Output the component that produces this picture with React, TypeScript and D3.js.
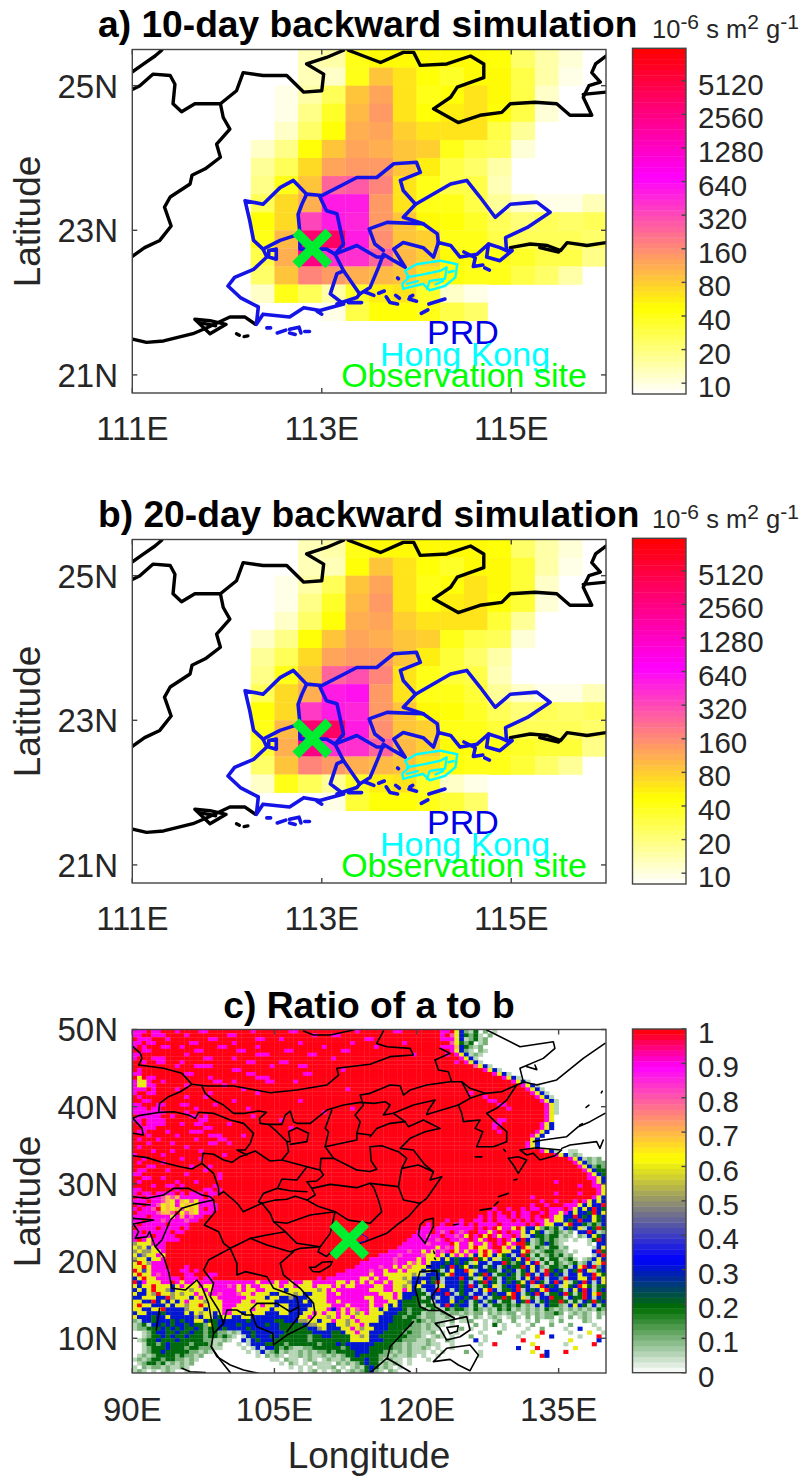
import React from "react";
import * as d3 from "d3";

// footprint values per 0.25 degree cell, rows from 25.5N down, columns from 111E
const FOOTPRINT_10D = [
  [0,0,0,0,0,0,0,13,14,40,50,50,50,50,50,45,22,15,10,0],
  [0,0,0,0,0,0,0,13,12,42,90,60,45,35,50,50,30,14,9,0],
  [0,0,0,0,0,0,9,15,25,85,120,60,40,45,65,50,30,12,0,0],
  [0,0,0,0,0,0,9.5,18,35,100,140,60,45,55,65,45,30,11,0,0],
  [0,0,0,0,0,0,12,22,45,110,125,75,60,60,60,30,16,0,0,0],
  [0,0,0,0,0,12,18,45,90,125,110,90,75,40,28,25,11,0,0,0],
  [0,0,0,0,0,16,25,70,125,140,130,85,55,30,22,15,0,0,0,0],
  [0,0,0,0,0,18,40,85,230,280,170,65,40,30,28,13,0,0,0,0],
  [0,0,0,0,0,25,70,110,500,550,140,60,40,40,30,16,12,9,9,13],
  [0,0,0,0,0,45,70,350,500,450,130,85,50,45,35,25,20,25,22,25],
  [0,0,0,0,0,40,100,3000,3500,500,160,90,75,40,40,30,25,25,25,22],
  [0,0,0,0,0,30,110,2500,400,400,230,100,75,50,45,40,35,30,30,18],
  [0,0,0,0,0,22,85,170,130,110,100,85,60,45,40,40,30,22,15,0],
  [0,0,0,0,0,12,40,25,15,35,55,65,35,12,9,0,0,0,0,0],
  [0,0,0,0,0,0,0,0,9,30,45,45,40,30,22,0,0,0,0,0],
];
const FOOTPRINT_20D = [
  [0,0,0,0,0,0,0,13,14,41,52,50,50,50,52,46,23,15,10,0],
  [0,0,0,0,0,0,0,13,13,43,92,62,46,36,52,52,31,14,9,0],
  [0,0,0,0,0,0,9,15,26,87,122,62,41,46,66,52,31,12,0,0],
  [0,0,0,0,0,0,9.5,18,36,102,142,62,46,56,66,46,31,11,0,0],
  [0,0,0,0,0,0,12,23,46,112,127,77,61,61,61,31,16,0,0,0],
  [0,0,0,0,0,12,18,46,92,127,112,92,77,41,29,26,11,0,0,0],
  [0,0,0,0,0,16,26,72,127,142,132,87,56,31,23,15,0,0,0,0],
  [0,0,0,0,0,18,41,87,235,285,172,66,41,31,29,13,0,0,0,0],
  [0,0,0,0,0,26,72,112,510,560,142,61,41,41,31,16,12,9,9,13],
  [0,0,0,0,0,46,72,360,510,460,132,87,51,46,36,26,21,26,23,26],
  [0,0,0,0,0,41,102,3100,3600,510,162,92,77,41,41,31,26,26,26,23],
  [0,0,0,0,0,31,112,2600,410,410,235,102,77,51,46,41,36,31,31,19],
  [0,0,0,0,0,23,87,172,132,112,102,87,61,46,41,41,31,23,16,0],
  [0,0,0,0,0,12,41,26,16,36,56,66,36,12,9,0,0,0,0,0],
  [0,0,0,0,0,0,0,0,9,31,46,46,41,31,23,0,0,0,0,0],
];
const CBAR_TICKS_AB = [10, 20, 40, 80, 160, 320, 640, 1280, 2560, 5120];
const CBAR_TICKS_C = [0, 0.1, 0.2, 0.3, 0.4, 0.5, 0.6, 0.7, 0.8, 0.9, 1];

// ratio a/b on a 0.5 degree grid, rows from 50N down, columns from 90E, 10 groups of 5 degrees
// . = 0, a = 0.05, 1..9 = 0.1..0.9, X = 1
const RATIO_ROWS = [
  "999X99XXX9 XXXX99XXXX XXXXX9XXXX XXX99XXXXX XXXXXXX9XX XXXXX99XXX XXXXX99X63 1a2.1.a... .......... ..........",
  "99XX999XXX X9XXXXXXXX 99XXXXXXXX XXXXXXXX9X XX99XXXXXX XXXXXXXXXX XXXXX9X863 212a.1.... .......... ..........",
  "X999XXX9XX XXXXXX99XX XXXXXX99XX X9XXXXXXXX XXXXXXXXX9 9XXXXXXXXX XXXXX99963 a12a1..... .......... ..........",
  "99X99XXXXX XX99XXXXXX X9XXXXXXXX XXXXX9XXXX XXXXXX9XXX XXXXXXX9XX XXXXXXX862 12.a1..... .......... ..........",
  "9X9XXX99XX 9XXXXXXX99 XXXXXX9XXX XXXXXXXXXX 9XXXXXXXXX X9XXXXXXXX XXXXX99973 21a1...... .......... ..........",
  "XX99XXXXXX XXX99XXXXX XX99XXXXXX XX99XXXXXX XXXX99XXXX XXXXXXXXXX XXXXXXX963 1a.1a..... .......... ..........",
  "99XXXXXXXX X9XXXXXXXX XXXXXX999X XXXXXXX99X XXXXXXXXXX XXXXXXXXX9 XXXXXX9X96 3a1a...... .......... ..........",
  "9XXX999XXX XXXXX99XXX X9XXXXXXXX XXXXXXXXXX XX9XXXXXXX XXXXXXXXXX XXXXXXXXX9 63a....... .......... ..........",
  "XX9XX99XXX 9XXXXXXXXX XXXX99XXXX X99XXXXXXX XXXXXXXXXX XXXXXXXXXX XXXXXXXX9X 963a...... .......... ..........",
  "XXXXXXXXX9 XXX9999XXX XXXXXXXXX9 XXXXX99XXX XXXXXXXXXX XXXXXXXXXX XXXXXXXXXX XX863a.... .......... ..........",
  "X9XXXXXXXX XXXXXXXXXX X99XXXXXXX XXXXXXXXXX XXXX9XXXXX XXXXXXXXXX XXXXXXXXXX XXXX963a.. .......... ..........",
  "99XXXXXXXX X99XXXXXXX XXXX99XXXX XXXXXX99XX XXXXXXXXXX XXXXXXXXXX XXXXXXXXXX XXXXXX963a .......... ..........",
  "X6X99XXXXX XXXXXX9XXX XXXXXX999X XXXXXXXXXX XXXXXXXXXX XXXXXXXXXX XXXXXXXXXX XXXXXXXX96 3a........ ..........",
  "9669XX9XXX XXXXXXX99X X9XXXXXX99 XXXX9XXXXX XXXXXXXXXX XXXXXXXXXX XXXXXXXXXX XXXXXXXXXX 963a...... ..........",
  "96699XXXXX X9XXXXXXX9 XXXXXXXXXX XXXXXXXXXX XXXXXXXXXX XXXXXXXXXX XXXXXXXXXX XXXXXXXXXX XX963a.... ..........",
  "999X9XXXX9 XXXXXXXXXX XXX9XXXXXX XXXXXXXXXX XXXXX9XXXX XXXXXXXXXX XXXXXXXXXX XXXXXXXXXX XXX963a... ..........",
  "9XX99XXXXX XXXXXX9XXX XXXXXX9XXX XXXXXXXXXX XXXXXXXXXX XXXXXXXXXX XXXXXXXXXX X9XXXXXXXX XXXX963a.. ..........",
  "X9XXXXXXXX X9XXX9XXXX XXXXXXXXXX XXXXXXXXXX XXXXXXXXXX XXXXXXXXXX XXXXXXXXXX XXXX9XXXXX XXXXX963a. ..........",
  "XX99XXXXXX XXXXXXXXXX X9XXXXXXXX XXXXX9XXXX XXXXXXXXXX XXXXXXXXXX XXXXXXXXXX XXXXX99XXX XXXXXX963a ..........",
  "99XXX99XXX 99XXXXX9XX XXXXXXXXXX XXXXXXXXXX XXXXXXXXXX XXXXXXXXXX XXXXXXXXXX XXXXXXX99X XXXXXXX96a ..........",
  "999X99XXXX XXX9XXXXXX XXXX9XXXXX XXXXXXXXXX XXXXXX9XXX XXXXXXXXXX XXXXXXXXXX XXXXXXXXX9 XXXXXXX96a ..........",
  "9999999XXX X9XXXXXXXX XXXXXXXXXX XXXXXXXXXX 9XXXXXXXXX XXXXXXXXXX XXXXXXXXXX XXXXXXXXXX XXXXXXX96a ..........",
  "X99999XX9X XX99X9XXXX XXXXX9XXXX XXXXXXXXXX XXXXXXXXXX XXXXXXXXXX XXXXXXXXXX XXXXXXXXXX XXXXXXX96. ..........",
  "99X9999XXX XXXX99XXXX XXXXXXXXXX X9XXXXXXXX XXXXXXXXXX XXXXXXXXXX XXXXXXXXXX XXXXXXX99X XXXXXXX96. ..........",
  "X9X9999XXX 9XX99XXXXX 9XXXXXXXXX XXXXXXXXXX XXXXXXXXXX XXXXXXXXXX XXXXXXXXXX XXXXXX99XX XXXXXX963. ..........",
  "XX999XXXXX XXXXX99XXX XXXXXXXXXX XXX9XXXXXX XXXXXXXXXX XXXXXXXXXX XXXXXXXXXX XXXXXX9XXX XXXXXX963. ..........",
  "X99XXXX9XX XX999XXXXX XXXXXXXXXX XXXXXXXXXX XXXXXXXXXX XXXXXXXXXX XXXXXXXXXX XXXXXXX9XX XXXXX963.. ..........",
  "XXX9XXXXX9 XXXXXX999X XXX9XXXXXX XXXXXXXXXX XXXXXXXXXX XXXXXXXXXX XXXXXXXXXX XXXXXXXXXX XXXX963... ..........",
  "X9XXX9XXXX XXX9XXXX99 XXXXXXXXXX XXXXXXXXXX XXXXXXXXXX XXXXXXXXXX XXXXXXXXXX XXXXXXXXXX XXXX63.... ..........",
  "XXX9XXXX9X XXXXXX99XX 9XXXXXXXXX XXXXXXXXXX XXXXXXXXXX XXXXXXXXXX XXXXXXXXXX XXXXXXXXXX XXX963.... ..........",
  "X9XXXXXXXX X9XXXXXXXX XXXXXXXXXX XXXXXXXXXX XXXXXXXXXX XXXXXXXXXX XXXXXXXXXX XXXXXXXXXX XXX963.... ..........",
  "XXXX9XXX9X XXXX9XXXXX XXXXXXXXXX XXXXXXXXXX XXXXXXXXXX XXXXXXXXXX XXXXXXXXXX XXXXXXXXXX XXXXXX963a ..aa......",
  "9XXXXX9XXX XXXXXXXXX9 XXXXXXXXXX XXXXXXXXXX XXXXXXXXXX XXXXXXXXXX XXXXXXXXXX XXXXXXXXXX XXXXXXXXX9 63a1a.....",
  "XX9XXXXXXX 9XXX9XXXXX XXXXXXXXXX XXXXXXXXXX XXXXXXXXXX XXXXXXXXXX XXXXXXXXXX XXXXXXXXXX XXXXXXXXXX XX963a1a1.",
  "X9XXXX9XXX XXXXXXXXXX XXXXXXXXXX XXXXXXXXXX XXXXXXXXXX XXXXXXXXXX XXXXXXXXXX XXXXXXXXXX XXXXXXXXXX XXX9631a11",
  "XXX99XXXXX XX9XXX9XXX XXXXXXXXXX XXXXXXXXXX XXXXXXXXXX XXXXXXXXXX XXXXXXXXXX XXXXXXXXXX XXXXXXXXXX XXXX963121",
  "X99XXXX9XX XXXXX9XXXX XXXXXXXXXX XXXXXXXXXX XXXXXXXXXX XXXXXXXXXX XXXXXXXXXX XXXXXXXXXX XXXXXXXXXX XXXXX96322",
  "99XXXXXXXX X9XXXXXX9X XXXXXXXXXX XXXXXXXXXX XXXXXXXXXX XXXXXXXXXX XXXXXXXXXX XXXXXXXXXX XXXXXXXXXX XXXXXX9632",
  "XX99XX9XXX XXXXXXXX9X XXXXXXXXXX XXXXXXXXXX XXXXXXXXXX XXXXXXXXXX XXXXXXXXXX XXXXXXXXXX XXXXXXXXXX XXXXXX9963",
  "X9XXXXXXX9 XXX9XXXXXX XXXXXXXXXX XXXXXXXXXX XXXXXXXXXX XXXXXXXXXX XXXXXXXXXX XXXXXXXXXX XXXXXXXXX9 XXXXXXX963",
  "XXXX9XX99X 9XXXXXX9XX XXXXXXXXXX XXXXXXXXXX XXXXXXXXXX XXXXXXXXXX XXXXXXXXXX XXXXXXXXXX XXXXXXXXXX XXXX9XX996",
  "99XXXXXXX9 XXXXX99X9X XXXXXXXXXX XXXXXXXXXX XXXXXXXXXX XXXXXXXXXX XXXXXXXXXX XXXXXXXXXX XXXXXXXXXX XXXXXXXX96",
  "9X99X9999X 9X999X99XX XXXXXXXXXX XXXXXXXXXX XXXXXXXXXX XXXXXXXXXX XXXXXXXXXX XXXXXXXXXX XXXXXXXXX9 XXXX9XXX96",
  "X9X9998787 99999X9XXX XXXXXXXXXX XXXXXXXXXX XXXXXXXXXX XXXXXXXXXX XXXXXXXXXX XXXXXXXXXX XXXX9XXXXX XXXXXXX963",
  "999X998769 7686999XXX XXXXXXXXXX XXXXXXXXXX XXXXXXXXXX XXXXXXXXXX XXXXXXXXXX XXXXXXXXXX XXXXXX9XX9 XXX9X96363",
  "X9X9986769 67669999XX XXXXXXXXXX XXXXXXXXXX XXXXXXXXXX XXXXXXXXXX XXXXXXXXXX XXXXXXXXXX XXXX9XX9XX X99963633X",
  "9X998X6767 86769X99XX XXXXXXXXXX XXXXXXXXXX XXXXXXXXXX XXXXXXXXXX XXXXXXXXXX XXXXXX9XX9 XX9X99XX99 9X96363X32",
  "X99998778X 6876999XXX XXXXXXXXXX XXXXXXXXXX XXXXXXXXXX XXXXXXXXXX XXXXXXXXXX XXXXX9X9XX 9X99XX9X99 6936332X36",
  "999X999969 79899XXXXX XXXXXXXXXX XXXXXXXXXX XXXXXXXXXX XXXXXXXXXX XXXXXXXXXX XXX9X9X99X 9X99X9XX96 633X323623",
  "99X9998999 9899XXXXXX XXXXXXXXXX XXXXXXXXXX XXXXXXXXXX XXXXXXXXXX XXXXXX9XX9 XX99X9X999 X9X9X99696 6323X33623",
  "9X99999X99 99XXXXXXXX XXXXXXXXXX XXXXXXXXXX XXXXXXXXXX XXXXXXXXXX XX9XX9XX99 X9X9999X99 999X9X9663 36X3321213",
  "X9999X9999 X9XXXXXXXX XXXXXXXXXX XXXXXXXXXX XXXXXXXXXX XXXXXXXXXX X99X999999 99X9X9X699 6X63361212 a3236a32X2",
  "99X99999X9 9XXXXXXXXX XXXXXXXXXX XXXXXXXXXX XXXXXXXXXX XXXXXXXXXX 999X989X98 9XX9969X9X 9963623a12 1a1.33X3a1",
  "9999X9999X XXXXXXXXXX XXXXXXXXXX XXXXXXXXXX XXXXXXXXXX XXXXXXXXX9 99899X9989 6X9X6X9699 X96a322122 a1a.1a3623",
  "9X96999999 XXXXXXXXXX XXXXXXXXXX XXXXXXXXXX XXXXXXXXXX XXXXXXXX99 999989X998 9X969XX9X9 63X3a12121 aa.a..a2X3",
  "5666999XXX XXXXXXXXXX XXXXXXXXXX XXXXXXXXXX XXXXXXXXXX XXXXXXX999 9989999X69 969969X9X6 9XX2a12321 a.....a.33",
  "6564699XXX XXXXXXXXXX XXXXXXXXXX XXXXXXXXXX XXXXXXXXXX XXXXXX9999 9999698969 96X669XX69 63X6a21a22 a1.....a36",
  "5655669XXX XXXXXXXXXX XXXXXXXXXX XXXXXXXXXX XXXXXXXXXX XXXX999989 9696989X69 6996X69X66 336X1a1221 1a.a...3X2",
  "6456696XXX XXXXXXXXXX XXXXXXXXXX XXXXXXXXXX XXXXXXXXXX XX99998999 9866963696 9636X63623 a3X2a2a121 2a1....a3X",
  "5663669XXX XXXXXXXXXX XXXXXXXXXX XXXXXXXXXX XXXXXXXXXX 9999989999 6966636323 32X2636a22 363X1a2a22 a12a.a1363",
  "6X65999XXX XXXXXXXXXX XXXXXXXXXX XXXXXXXXXX XXXXXXXX99 9999989968 6963332323 2a633a33X2 12363Xa2a2 1a12a13a6X",
  "66X6999XXX X9XXXXXXXX XXXXXXXXXX XXXXXXXXXX XXXXXXX999 9989969686 6633323X32 6323a23a23 22X3631a22 12a36X3X13",
  "X6469999XX 99X9XXXXXX XXXXXXXXXX XXXXXXXXXX XXXXX99999 8996996966 63632a3633 X6a3322a32 3a2363aX23 2a32X36a23",
  "6X669899XX X99XXX99XX XXXXXXXXXX XXXXXXXXXX XXX9999999 6996666665 6a33326X33 3632X3a223 2a2X3a3X32 3a33633X62",
  "36X6699999 X999X99XXX XXXXXXXXXX XXXXXXXXX9 X999999966 9699666563 33323a333X 32a63X2a32 2a363X3a33 1X33663X36",
  "X3966699X9 6996999999 9999996999 6996996699 9996696969 6996966653 3632Xa3332 3a32X32a32 3263X32a3X 36a23X3a36",
  "6366X66636 9666966999 8969699666 6966966696 6696966999 9669966563 6333a63332 3X3a236a23 3X23a6X323 a623X62a22",
  "3636X66536 6656696999 9969669966 6636666665 6969999999 6669966963 2a33X33a32 33a36X3a22 3Xa3236X33 2a363X3a23",
  "63365X6656 5669669989 9986696663 3666563366 6996999999 9966696333 22a333X3a2 3a33a32336 X3a23X3a22 3X2a2X36X2",
  "3366633X56 6636966699 9999666636 6335333666 6999999996 6996696332 2a23a33a33 23Xa3a22X2 X36a2a33X2 2a322X3a32",
  "6633X36363 6966656669 9996696666 3333336366 6996999999 6999663222 222a333632 3a23a23a22 a32X3a2322 X2a2a32X23",
  "6X66333636 6566X66669 9966666966 3663333366 6699969999 6996363222 2a22a3X323 3a2a3a2212 12a1a3a322 1a3632a3a2",
  "663366X333 3566636669 9666696663 6663333666 6939696899 6636333212 22a21a2122 1a21a1a212 a1a1a1a21a 1a1a1a1a21",
  "3663332333 3636566369 9663666633 3663336696 9669696569 6663332212 2a11a1a11a 1a11.1a1a1 1.a1a1a112 1.a1a1a.1a",
  "6333233633 3335366326 6336633333 3333366966 6569669666 6633322122 1a11aa1a.1 a.1a.a1a.a 1a.1.1a11. a.1.a1a.1.",
  "1a33233323 2336632233 3333233333 2233355663 6696656966 6633322221 21a1aa.1.a a1..a.a1.. 1..a.1..a. 1....1a...",
  "a12a332323 3232216233 3323333323 3222223556 6336656696 3333222221 1a1a1a.a.. ..1.a.2.a. .a..1...1. ..1....a..",
  "a112223232 3223212232 3333233333 3222222335 6333669656 6333222211 1a1aa....1 .a..a...a. ...a..1... .a..3...a.",
  "..a1233223 2232212211 a1a3323333 3322222233 3322366966 3332222121 1aa1.a..a. ...a...1.. ..a...X... ..a...6..a",
  "..a1223232 2322212212 1a.a323332 3222222122 3322226656 3322222211 1a.a1a.a.. .1..a..... .a...6..3. ....a...X.",
  ".a12232223 2222211aa1 a..3a32333 2222222122 2222226666 3332222111 aa1a..1a.. ..3.a..... ..X....... ..6.....3.",
  "..a2212322 2212221a1. ..a.a33322 2212222221 2223233333 3222211a1a aa1aa..a.. ...a..X... ....6..... .a.....X..",
  "..a1222322 2122111aa. ...a.a3a33 2121aa1122 2222123333 2222211a1a a1a.a..a.. .......... .3...X.... ...6......",
  "..a1223222 2211a1a... ....a.a3a1 2a1aa1a1a1 1212222333 22211a1a1a aa.a.a.... 1..a...... ....6..3.. .X........",
  ".a1a122221 211a1..... ......a.1a 1a.aa1a1aa 1a1a122322 2211a1aa1a .a..a..... ...a...... ......X3.. ..........",
  "a1a1221221 1a1a...... .........a a.1aa.a1a. a1aa1a2223 221a1aa.a. ..a....... .......... .......... ..........",
  ".a12212a1a 1a1....... .......... .a.1a.a.1a aa.1a1a123 22a1a1a.a. .......... .......... .......... ..........",
  "a.1a11a1aa 1a........ .......... ...a.a.a.a aa1.a.a1a2 32a1a.a... .......... .......... .......... ..........",
  "a1a.a.a1a. .a........ .......... .....a.a1. a.a1.a1a12 31a.1a.... .......... .......... .......... ..........",
];

const SITE = { lon: 112.9, lat: 22.75 };

// outlines in degrees, [lon, lat]
type Pt = [number, number];
const REGION_BLACK: Pt[][] = [
  [[110.99,25.18],[111.12,25.3],[111.24,25.41],[111.31,25.49]],
  [[110.99,24.94],[111.08,25],[111.22,25.16],[111.4,25.14],[111.45,25.02],[111.43,24.75],[111.52,24.64],[111.66,24.75],[111.93,24.75],[111.96,24.56],[112.03,24.4],[111.89,24.19],[111.93,24.01],[111.77,23.85],[111.63,23.76],[111.61,23.64],[111.4,23.46],[111.34,23.32],[111.41,23.06],[111.29,22.86],[111.13,22.76],[110.99,22.63]],
  [[111.93,24.75],[112.1,24.93],[112.17,25.18],[112.38,25.14],[112.63,25.14],[112.81,24.91],[113,24.93],[113.02,25.16],[112.84,25.3],[113.05,25.39],[113.23,25.49]],
  [[113.28,25.49],[113.44,25.41],[113.62,25.32],[113.86,25.46],[113.97,25.46],[114.04,25.28],[114.32,25.3],[114.57,25.41],[114.71,25.3],[114.71,25.11],[114.43,24.98],[114.36,24.84],[114.18,24.68],[114.44,24.49],[114.67,24.59],[114.9,24.63],[114.99,24.75],[115.25,24.77],[115.48,24.75],[115.62,24.59],[115.85,24.59],[115.76,24.84],[115.82,25],[115.94,25.05],[115.85,25.18],[115.89,25.3],[116,25.41]],
  [[115.76,24.88],[116,24.91]],
  [[110.99,21.5],[111.15,21.45],[111.33,21.47],[111.64,21.57],[111.8,21.66],[112.03,21.8],[112.19,21.8],[112.3,21.7]],
  [[111.66,21.77],[111.82,21.75],[111.99,21.7],[111.82,21.57],[111.66,21.77]],
  [[111.72,21.72],[111.88,21.68]],
  [[114.99,22.76],[115.2,22.81],[115.38,22.79],[115.52,22.72],[115.59,22.83],[115.8,22.79],[116,22.83]],
  [[115.3,22.76],[115.5,22.7]],
  [[112.1,21.57],[112.13,21.55]],[[112.18,21.53],[112.22,21.54]],
];
const PRD_BLUE: Pt[][] = [
  [[112.01,22.23],[112.08,22.35],[112.28,22.46],[112.42,22.63],[112.38,22.74],[112.28,22.86],[112.24,23.13],[112.19,23.41],[112.38,23.36],[112.56,23.59],[112.7,23.69],[112.84,23.5],[113,23.48],[113.37,23.73],[113.58,23.73],[113.76,23.92],[114,23.94],[114.04,23.8],[113.83,23.69],[113.86,23.55],[113.99,23.36],[114.36,23.64],[114.53,23.69],[114.67,23.46],[114.83,23.18],[114.99,23.36],[115.27,23.39],[115.41,23.25],[115.17,23.04],[114.94,22.9],[114.95,22.72],[115.01,22.72],[114.88,22.58],[114.74,22.63],[114.76,22.81],[114.64,22.67],[114.46,22.63],[114.36,22.79],[114.23,22.83],[114.18,22.63],[114.07,22.76],[113.86,22.83],[113.76,22.74],[113.88,22.49],[113.76,22.58],[113.65,22.67],[113.6,22.49],[113.51,22.21],[113.4,22.12],[113.23,22.44],[113.16,22.4],[113.09,22.12],[113.23,21.98],[112.98,21.89],[112.81,21.93],[112.66,21.8],[112.38,21.84],[112.31,21.7],[112.33,21.94],[112.14,22.07],[112.01,22.23]],
  [[112.38,22.74],[112.56,22.86],[112.77,22.95],[112.75,23.22],[112.79,23.36],[112.84,23.5]],
  [[112.77,22.95],[112.77,22.74],[113.05,22.74],[113.14,22.67],[113.23,22.81],[113.16,23.23],[113.05,23.27],[112.98,23.46]],
  [[113.14,22.67],[113.37,22.79],[113.58,22.63],[113.65,22.63]],
  [[113.14,22.67],[113.23,22.44]],
  [[114.23,22.83],[114.22,22.95],[114.07,23.09],[113.69,23.11],[113.5,23.02],[113.56,22.81],[113.65,22.72]],
  [[113.99,23.36],[113.86,23.18],[114.07,23.09]],
  [[112.44,22.72],[112.52,22.74],[112.52,22.6],[112.44,22.63],[112.44,22.72]],
  [[113.16,21.98],[113.37,22.07],[113.4,22.12]],
  [[114.76,22.81],[114.88,22.76],[114.95,22.72]],
  [[114.5,22.7],[114.62,22.62],[114.6,22.5],[114.7,22.52]],
  // islands
  [[112.53,21.58],[112.62,21.62]],[[112.66,21.63],[112.76,21.66],[112.78,21.58]],[[112.72,21.56],[112.66,21.58]],[[112.82,21.6],[112.87,21.6]],[[112.42,21.65],[112.46,21.65]],
  [[113.68,22.08],[113.72,22],[113.8,21.98]],[[113.78,22.1],[113.82,22.06]],[[113.92,22.05],[114,22.02]],[[114.05,21.85],[114.12,21.9]],[[114.13,21.98],[114.3,22.05]],[[113.8,22.34],[113.81,22.33]],[[113.93,22.08],[113.96,22.1]],
  [[114.72,22.48],[114.77,22.45]],[[113.6,22.13],[113.66,22.16]],[[113.28,22],[113.42,22]],[[113.45,22.15],[113.55,22.1]],[[112.95,21.88],[113.0,21.84]],
];
const HK_CYAN: Pt[][] = [
  [[113.88,22.44],[114,22.53],[114.25,22.58],[114.43,22.53],[114.41,22.35],[114.3,22.23],[114.14,22.17],[114.07,22.26],[113.86,22.19],[113.85,22.26],[113.92,22.35],[113.88,22.44]],
  [[113.9,22.35],[114.07,22.39],[114.25,22.44],[114.32,22.49],[114.3,22.33],[114.14,22.3],[114.11,22.19]],
  [[114.2,22.25],[114.28,22.3]],[[114.34,22.42],[114.4,22.44]],[[113.9,22.26],[114.02,22.3]],
];
const ASIA_BLACK: Pt[][] = [
  [[90.07,47.77],[90.85,46.91],[91.02,46.26],[90.67,45.4],[93.3,44.97],[95.24,44.32],[96.29,42.9],[97.88,42.68],[100.69,42.68],[104.56,41.81],[107.37,42.16],[110.54,42.81],[111.77,44.1],[111.59,44.97],[115.1,45.49],[117.21,46.48],[119.67,46.69],[119.32,47.56],[116.86,47.77],[115.8,48.2],[116.5,49.8]],
  [[108.07,49.8],[109.13,49.28],[110.89,49.28],[113.35,49.93]],
  [[96.29,42.9],[95.06,41.94],[93.83,41.3],[92.88,40.43],[92.78,39.27]],
  [[90.07,38.49],[90.67,38.84],[92.95,39.27],[94.36,39.35],[95.94,38.92],[96.65,38.49],[97,39.27],[98.58,39.14],[100.34,38.27],[101.75,37.84],[102.8,36.55],[102.45,35.25],[101.92,34.39],[101.04,34.39],[102.1,33.74]],
  [[90.07,38.49],[91.02,37.19],[91.15,36.33],[90.07,36.55]],
  [[90.07,33.65],[91.55,33.4],[92.95,32.88],[95.06,32.23],[96.29,31.93],[97.35,32.66],[97.46,33.96],[98.58,33.83],[99.63,33.09],[100.51,32.79],[101.39,33.52],[102.98,34.26],[103.85,33.52],[104.56,32.96],[105.79,33.09],[106.49,34.17],[106.32,35.47],[105.26,36.76],[104.38,37.71],[103.5,37.84],[103.43,38.49],[104.14,39.27],[103.33,39.44],[101.92,39.14],[100.69,39.14],[99.63,40.22],[98.4,41],[97.7,41.73],[97.35,42.68]],
  [[104.38,37.71],[105.79,37.71],[106.14,38.92],[106.67,39.44],[107.02,38.06],[107.37,37.84],[108.78,37.84],[110.54,39.57],[112.3,40.22],[114.05,40.56],[115.52,40.43],[116.68,40.65],[117.21,40.22],[116.51,38.92],[117.56,39.14],[119.67,40.22],[121.96,40.86],[121.25,39.57],[121.08,39]],
  [[106.32,35.47],[106.67,35.47],[106.49,36.76],[107.37,37.28],[108.6,36.55],[108.43,35.47],[106.67,35.12]],
  [[111.06,39.57],[110.36,37.19],[110.71,36.76],[110.36,34.82],[111.24,33.31],[113.7,31.8]],
  [[110.36,34.82],[113.7,35.68],[113.7,36.55],[115.1,36.33]],
  [[113.7,36.55],[114.05,38.05],[113.52,38.92],[114.4,40.22],[114.05,41.51],[115.1,41.73]],
  [[105.79,33.09],[108.43,32.23],[109.83,31.8],[110.18,31.15],[109.48,30.37],[108.43,30.28],[108.95,29.42],[109.3,28.56],[108.43,27.9]],
  [[109.83,31.8],[109.9,33.3],[111.24,33.31]],
  [[108.43,32.23],[107.37,30.5],[105.79,30.63],[105.33,29.42],[106.67,29.12],[108.43,28.99]],
  [[105.33,29.42],[103.85,28.77],[103.33,27.69],[103.68,27.48]],
  [[108.95,29.42],[110.89,29.94],[113.7,29.51],[115.1,30.07],[118.09,29.64]],
  [[97.35,32.66],[98.58,31.37],[99.11,29.42],[99.11,28.56],[99.63,28.99],[100.69,27.91],[101.22,27.27],[101.7,26.4],[103.68,27.48],[105.1,27.9],[106.3,28],[107.2,28.4],[108.43,27.9],[109.6,27.1],[111.41,26.4]],
  [[90.07,28.34],[91.55,28.13],[93.3,28.56],[94.36,29.42],[95.94,29.42],[97.35,28.56],[98.23,28.34],[98.58,27.91],[98.76,26.4],[97.6,24.67],[99.11,23.81],[99.64,22.3],[100.34,21.65],[101.74,22.51],[102.45,22.94],[104.21,22.08],[106.67,21.2],[107.72,21.65],[109.83,21.86]],
  [[103.68,27.48],[104.56,26.18],[104.91,25.1],[106.32,24.89],[108.78,25.97],[111.41,26.4],[112.8,25.3],[115.1,24.89],[116.33,26.4],[115.98,27.91],[115.5,29.5],[115.1,30.07]],
  [[111.41,26.4],[110.89,23.59],[109.83,21.86],[109.6,21.2],[110.5,20.6],[111.2,21.4],[112.2,21.8],[113.4,22.1],[114.3,22.4],[115.45,22.94],[116.86,23.59],[117.91,24.67],[119.14,25.75],[120.37,27.48],[121.08,28.13],[122.66,30.93],[121.43,30.5],[121.78,31.58],[120.9,32.45],[119.67,34.39],[118.27,34.6],[119.32,35.9],[120.9,36.76],[122.48,37.19],[120.73,38.27],[119.14,37.41],[118.79,38.06],[117.56,39.14]],
  [[104.91,25.1],[106.14,23.81],[104.21,23.38],[102.45,22.94]],
  [[106.14,23.81],[107.37,22.3],[109.83,21.86]],
  [[100.34,21.65],[98.05,20.13],[97.53,18.84],[98.58,17.12],[98.23,15.39],[99.11,13.66],[99.64,11.93],[98.58,10.64],[98.33,8.91],[99.28,7.18],[100.34,5.55]],
  [[100.34,21.65],[101.04,19.71],[101.04,18.19],[101.92,18.63],[104.21,17.98],[104.91,16.47],[107.37,15.39],[107.55,14.09],[106.67,13.44],[105.26,14.52],[103.15,14.52],[102.45,13.66],[103.15,11.5],[104.84,10.64],[104.91,9.13],[106.32,10.42],[108.43,11.72],[109.3,13.01],[109.13,14.52],[107.72,16.47],[105.96,18.19],[105.61,19.71],[107.02,21.22]],
  [[107.55,14.09],[107.55,12.8],[106.32,10.85]],
  [[99.64,11.93],[99.99,13.66],[101.04,13.66],[101.92,13.01],[102.8,13.01]],
  [[98.33,8.91],[98.93,7.62],[100.34,6.54],[101.74,5.89],[103.33,5.46]],
  [[95.24,6.11],[96.12,5.67],[97.7,5.55]],
  [[91.83,23.81],[92.43,21.86],[93.31,20.57],[93.83,18.63],[94.19,16.47],[95.59,16.25],[96.82,17.55],[97.35,16.68],[98.05,14.52],[98.58,10.64]],
  [[98.58,27.91],[96.99,27.48],[95.24,26.83],[94.01,25.32],[93.13,22.73],[92.43,21.86]],
  [[91.83,23.81],[91.55,23.16],[90.32,22.94],[90.67,23.81],[90.1,24.8],[92.25,25.32],[90.07,25.53]],
  [[90.07,27.48],[91.9,27.26]],
  [[92.88,13.88],[92.53,11.07]],
  [[109.3,19.2],[110.05,19.85],[111.1,19.95],[110.9,19.4],[109.8,18.6],[109.05,18.65],[108.7,19.2],[109.3,19.2]],
  [[120.37,24.67],[120.9,25.32],[121.78,25.54],[121.78,24.46],[120.9,22.3],[120.2,23.38],[120.37,24.67]],
  [[120.37,18.63],[122.13,18.76],[122.31,16.68],[121.6,15.39],[121.96,14.09],[123.5,13],[124,12.6],[122.5,13.6],[121.25,13.6],[120.37,14.09],[119.85,16.47],[120.37,18.63]],
  [[121.78,6.97],[123.19,8.7],[125.65,9.13],[126.53,7.83],[125.65,5.8],[124.42,6.54],[123.54,7.27],[121.78,6.97]],
  [[121.96,11.93],[123.71,12.37],[125.3,12.8],[125.65,11.07],[124.6,10.2],[123.19,9.77],[122.48,11.29],[121.96,11.93]],
  [[123.2,11.4],[124.4,11.6],[124.3,10.9],[123.5,10.6],[123.2,11.4]],
  [[117.21,8.91],[119.67,12.15]],
  [[115.1,5.54],[116.86,7.4],[117.21,7.18],[119.32,5.67]],
  [[117.21,8.91],[116.9,7.3]],
  [[121.08,39],[124.42,40.22],[125.65,41.08],[127.23,41.73],[128.99,41.94],[130.57,42.81],[131.27,43.15]],
  [[130.57,42.81],[129.52,40.86],[128.46,39.79],[127.41,39.14],[128.29,38.06],[129.52,36.76],[129.52,35.47],[128.11,34.82],[126.35,34.82],[126.99,36.76],[126.18,37.19],[126.7,38.27],[124.95,38.06],[124.77,39.14],[124.42,40.22]],
  [[115.1,41.73],[117.21,42.81],[118.27,42.72],[118.62,41.51],[119.32,42.16],[121.08,42.81],[123.54,43.24],[124.77,43.24],[125.65,41.17]],
  [[124.77,43.24],[125.65,42.38],[127.23,41.73]],
  [[121.96,46.05],[122.31,44.75],[123.36,44.53],[123.71,43.24]],
  [[122.48,47.56],[123.54,46.91],[121.96,46.05]],
  [[127.41,49.93],[130.92,47.77],[134.44,48.42],[134.61,47.56],[133.38,46.26],[130.92,44.97],[131.27,43.24],[132.68,42.81],[134.79,43.46],[137.6,46.26],[139.89,48.2]],
  [[131.6,45.2],[132.7,44.8],[132.5,45.4]],
  [[115.1,36.11],[115.8,37.19],[117.21,37.84],[118.79,38.06]],
  [[115.1,34.82],[116.33,34.95],[118.09,34.17],[118.97,33.31],[118.44,32.01],[120.2,32.45],[121.78,31.58]],
  [[118.44,32.01],[118.09,29.64],[118.62,27.91],[120.37,27.48]],
  [[113.7,31.8],[115.1,31.6],[115.8,31.9],[115.2,33],[115.1,34.82]],
  [[130.92,34.39],[132.68,34.69],[135.32,34.39],[134.61,33.65],[133.03,33.09],[132.33,33.96],[131.63,33.74],[130.92,34.39]],
  [[129.69,33.31],[130.74,33.52],[131.63,33.09],[130.74,31.37],[130.22,32.45],[129.69,33.31]],
  [[135.32,34.6],[136.2,35.03],[139.01,35.47],[139.36,34.6],[139.71,35.68]],
  [[132.33,35.47],[133.38,35.68],[135.85,36.11],[137.08,37.41],[138.31,38.06],[139.89,39.14]],
  [[126.2,33.5],[126.9,33.5]],[[129.2,34.5],[129.4,34.2]],[[128.64,28.34],[129.69,28.77]],[[130.29,30.5],[130.6,30.6]],[[123.89,24.67],[124.42,24.8]],[[126.7,26.6],[127.93,26.83]],[[128.2,27.2],[128.64,27.7]],[[139.5,41.8],[139.6,42]],[[137.9,39.9],[138.2,40.2]],[[137.2,37.6],[137.5,37.8]],
  [[121.8,21.3],[121.9,21]],[[121.9,20.4],[122,20.2]],[[121.2,19.4],[121.5,19.3]],
];
const ASIA_PRD: Pt[][] = [
  [[113.6,22.8],[114.2,23.5],[114.9,23],[114.5,22.5],[113.8,22.4]],
];

const FONT = "Arial, 'Liberation Sans', sans-serif";
const TEXT = "#262626";
const BOX = "#444";

const fpColor = d3.scaleLinear<string>().domain([0, 0.25, 0.625, 1]).range(["#ffffff", "#ffff00", "#ff00ff", "#ff0000"]);
const ratioColor = d3.scaleLinear<string>()
  .domain([0, 0.19, 0.33, 0.625, 0.89, 1])
  .range(["#ffffff", "#006e00", "#0000ff", "#ffff00", "#ff00ff", "#ff0000"]);
const LEVELS = 64;
const stepped = (c: (f: number) => string, f: number) => c((Math.min(LEVELS - 1, Math.floor(f * LEVELS)) + 0.5) / LEVELS);

const line = d3.line<Pt>().curve(d3.curveLinear);

function Box({ x0, x1, y0, y1, xt, yt, tl = 5 }: any) {
  return (
    <g stroke={BOX} strokeWidth={1.4}>
      <rect x={x0} y={y0} width={x1 - x0} height={y1 - y0} fill="none" />
      {xt.map((x: number) => (
        <g key={x}>
          <line x1={x} x2={x} y1={y1} y2={y1 - tl} />
          <line x1={x} x2={x} y1={y0} y2={y0 + tl} />
        </g>
      ))}
      {yt.map((y: number) => (
        <g key={y}>
          <line x1={x0} x2={x0 + tl} y1={y} y2={y} />
          <line x1={x1} x2={x1 - tl} y1={y} y2={y} />
        </g>
      ))}
    </g>
  );
}

function SiteMark({ x, y }: { x: number; y: number }) {
  const r = 16.5;
  return (
    <path d={`M${x - r},${y - r}L${x + r},${y + r}M${x - r},${y + r}L${x + r},${y - r}`} stroke="#00ee30" strokeWidth={9.5} fill="none" />
  );
}

function ColorBar({ top, bottom, scale, ticks, color, fmt }: any) {
  const x0 = 632.5, x1 = 686;
  const levels = d3.range(LEVELS);
  const h = (bottom - top) / LEVELS;
  return (
    <g>
      {levels.map((l) => (
        <rect key={l} x={x0} width={x1 - x0} y={bottom - (l + 1) * h} height={h + 0.4} fill={color((l + 0.5) / LEVELS)} />
      ))}
      <rect x={x0} y={top} width={x1 - x0} height={bottom - top} fill="none" stroke={BOX} strokeWidth={1.4} />
      {ticks.map((t: number) => (
        <g key={t}>
          <line x1={x1} x2={x1 - 4.5} y1={scale(t)} y2={scale(t)} stroke={BOX} strokeWidth={1.4} />
          <text x={698} y={scale(t) + 3.5} dy="0.36em" fontSize={29.5} fill={TEXT} fontFamily={FONT}>{fmt(t)}</text>
        </g>
      ))}
    </g>
  );
}

function FootprintPanel({ title, id, top, values }: { title: string; id: string; top: number; values: number[][] }) {
  const x = d3.scaleLinear().domain([111, 116]).range([132.3, 606]);
  const y = d3.scaleLinear().domain([20.75, 25.5]).range([top + 343.5, top]);
  const log = d3.scaleLog().domain([8, 10000]).range([0, 1]);
  const bar = d3.scaleLog().domain([8, 10000]).range([top + 344.5, top - 1.2]);
  const path = (p: Pt[]) => line(p.map(([a, b]) => [x(a), y(b)] as Pt)) as string;
  const colsW = x(111.25) - x(111);
  const rowH = y(25.25) - y(25.5);
  return (
    <g>
      <text x={98} y={top - 12.5} fontSize={37.2} fontWeight="bold" fill="#000" fontFamily={FONT}>{title}</text>
      <text x={652} y={top - 12} fontSize={25.5} fill={TEXT} fontFamily={FONT}>
        10<tspan dy={-9} fontSize={21}>-6</tspan><tspan dy={9}> s m</tspan><tspan dy={-9} fontSize={21}>2</tspan><tspan dy={9}> g</tspan><tspan dy={-9} fontSize={21}>-1</tspan>
      </text>
      <clipPath id={id}><rect x={132.3} y={top} width={473.7} height={343.5} /></clipPath>
      <g clipPath={`url(#${id})`}>
        {values.map((row, r) =>
          row.map((v, c) =>
            v > 0 ? (
              <rect key={`${r}-${c}`} x={x(111 + c * 0.25)} y={y(25.5 - r * 0.25)} width={colsW + 0.3} height={rowH + 0.3} fill={stepped(fpColor, log(v))} />
            ) : null
          )
        )}
        <g fill="none" strokeLinejoin="round" strokeLinecap="round">
          {REGION_BLACK.map((p, i) => <path key={i} d={path(p)} stroke="#000" strokeWidth={3.4} />)}
          {PRD_BLUE.map((p, i) => <path key={i} d={path(p)} stroke="#1414e6" strokeWidth={3.6} />)}
          {HK_CYAN.map((p, i) => <path key={i} d={path(p)} stroke="#00ffff" strokeWidth={2.4} strokeDasharray="5 1" />)}
        </g>
      </g>
      <SiteMark x={x(SITE.lon)} y={y(SITE.lat)} />
      <g fontSize={34} textAnchor="middle" fontFamily={FONT}>
        <text x={463} y={top + 294.5} fill="#0000e6">PRD</text>
        <text x={465} y={top + 316.5} fill="#00ffff">Hong Kong</text>
        <text x={464} y={top + 337.5} fill="#00ff00">Observation site</text>
      </g>
      <Box x0={132.3} x1={606} y0={top} y1={top + 343.5} xt={[111, 113, 115].map(x)} yt={[21, 23, 25].map(y)} />
      <g fontSize={33} fill={TEXT} fontFamily={FONT}>
        {[21, 23, 25].map((t) => <text key={t} x={118} y={y(t)} dy="0.36em" textAnchor="end">{t}N</text>)}
        {[111, 113, 115].map((t) => <text key={t} x={x(t)} y={top + 390.5} textAnchor="middle">{t}E</text>)}
      </g>
      <text transform={`translate(40,${top + 172}) rotate(-90)`} fontSize={37} fill={TEXT} textAnchor="middle" fontFamily={FONT}>Latitude</text>
      <ColorBar top={top - 1.2} bottom={top + 344.5} scale={bar} ticks={CBAR_TICKS_AB} color={(f: number) => fpColor(f)} fmt={(t: number) => String(t)} />
    </g>
  );
}

function RatioPanel() {
  const top = 1029.5, h = 343.5;
  const x = d3.scaleLinear().domain([90, 140]).range([132.3, 606]);
  const y = d3.scaleLinear().domain([5.5, 50]).range([top + h, top]);
  const bar = d3.scaleLinear().domain([0, 1]).range([1372.7, 1029]);
  const path = (p: Pt[]) => line(p.map(([a, b]) => [x(a), y(b)] as Pt)) as string;
  const cw = x(90.5) - x(90);
  const ch = y(49.5) - y(50);
  const cells: { r: number; c: number; v: number }[] = [];
  RATIO_ROWS.forEach((row, r) => {
    row.split(" ").forEach((group, g) => {
      group.split("").forEach((s, i) => {
        const v = s === "X" ? 1 : s === "a" ? 0.05 : s === "." ? 0 : +s / 10;
        if (v > 0) cells.push({ r, c: g * 10 + i, v });
      });
    });
  });
  return (
    <g>
      <text x={369} y={top - 12} fontSize={37.2} fontWeight="bold" fill="#000" textAnchor="middle" fontFamily={FONT}>c) Ratio of a to b</text>
      <clipPath id="clipc"><rect x={132.3} y={top} width={473.7} height={h} /></clipPath>
      <filter id="soft" x="0" y="0" width="1" height="1"><feGaussianBlur stdDeviation="0.55" /></filter>
      <g clipPath="url(#clipc)">
        <g filter="url(#soft)">
          {cells.map((d) => (
            <rect key={`${d.r}-${d.c}`} x={x(90 + d.c * 0.5)} y={y(50 - d.r * 0.5)} width={cw + 0.3} height={ch + 0.3} fill={stepped(ratioColor, Math.min(d.v, 0.999))} />
          ))}
        </g>
        <g fill="none" strokeLinejoin="round" strokeLinecap="round" stroke="#000" strokeWidth={1.6}>
          {ASIA_BLACK.map((p, i) => <path key={i} d={path(p)} />)}
          {ASIA_PRD.map((p, i) => <path key={i} d={path(p)} stroke="#1414e6" strokeWidth={1} />)}
        </g>
      </g>
      <SiteMark x={x(SITE.lon)} y={y(SITE.lat)} />
      <Box x0={132.3} x1={606} y0={top} y1={top + h} xt={[90, 105, 120, 135].map(x)} yt={[10, 20, 30, 40, 50].map(y)} />
      <g fontSize={33} fill={TEXT} fontFamily={FONT}>
        {[10, 20, 30, 40, 50].map((t) => <text key={t} x={118} y={y(t)} dy="0.36em" textAnchor="end">{t}N</text>)}
        {[90, 105, 120, 135].map((t) => <text key={t} x={x(t)} y={top + h + 48} textAnchor="middle">{t}E</text>)}
      </g>
      <text transform={`translate(40,${top + 172}) rotate(-90)`} fontSize={37} fill={TEXT} textAnchor="middle" fontFamily={FONT}>Latitude</text>
      <text x={369} y={1468} fontSize={37} fill={TEXT} textAnchor="middle" fontFamily={FONT}>Longitude</text>
      <ColorBar top={1029} bottom={1372.7} scale={bar} ticks={CBAR_TICKS_C} color={(f: number) => ratioColor(f)} fmt={(t: number) => String(t)} />
    </g>
  );
}

export default function App() {
  return (
    <svg width={804} height={1477} style={{ position: "absolute", left: 0, top: 0, display: "block", background: "#fff" }}>
      <FootprintPanel title="a) 10-day backward simulation" id="clipa" top={49.5} values={FOOTPRINT_10D} />
      <FootprintPanel title="b) 20-day backward simulation" id="clipb" top={539.5} values={FOOTPRINT_20D} />
      <RatioPanel />
    </svg>
  );
}
